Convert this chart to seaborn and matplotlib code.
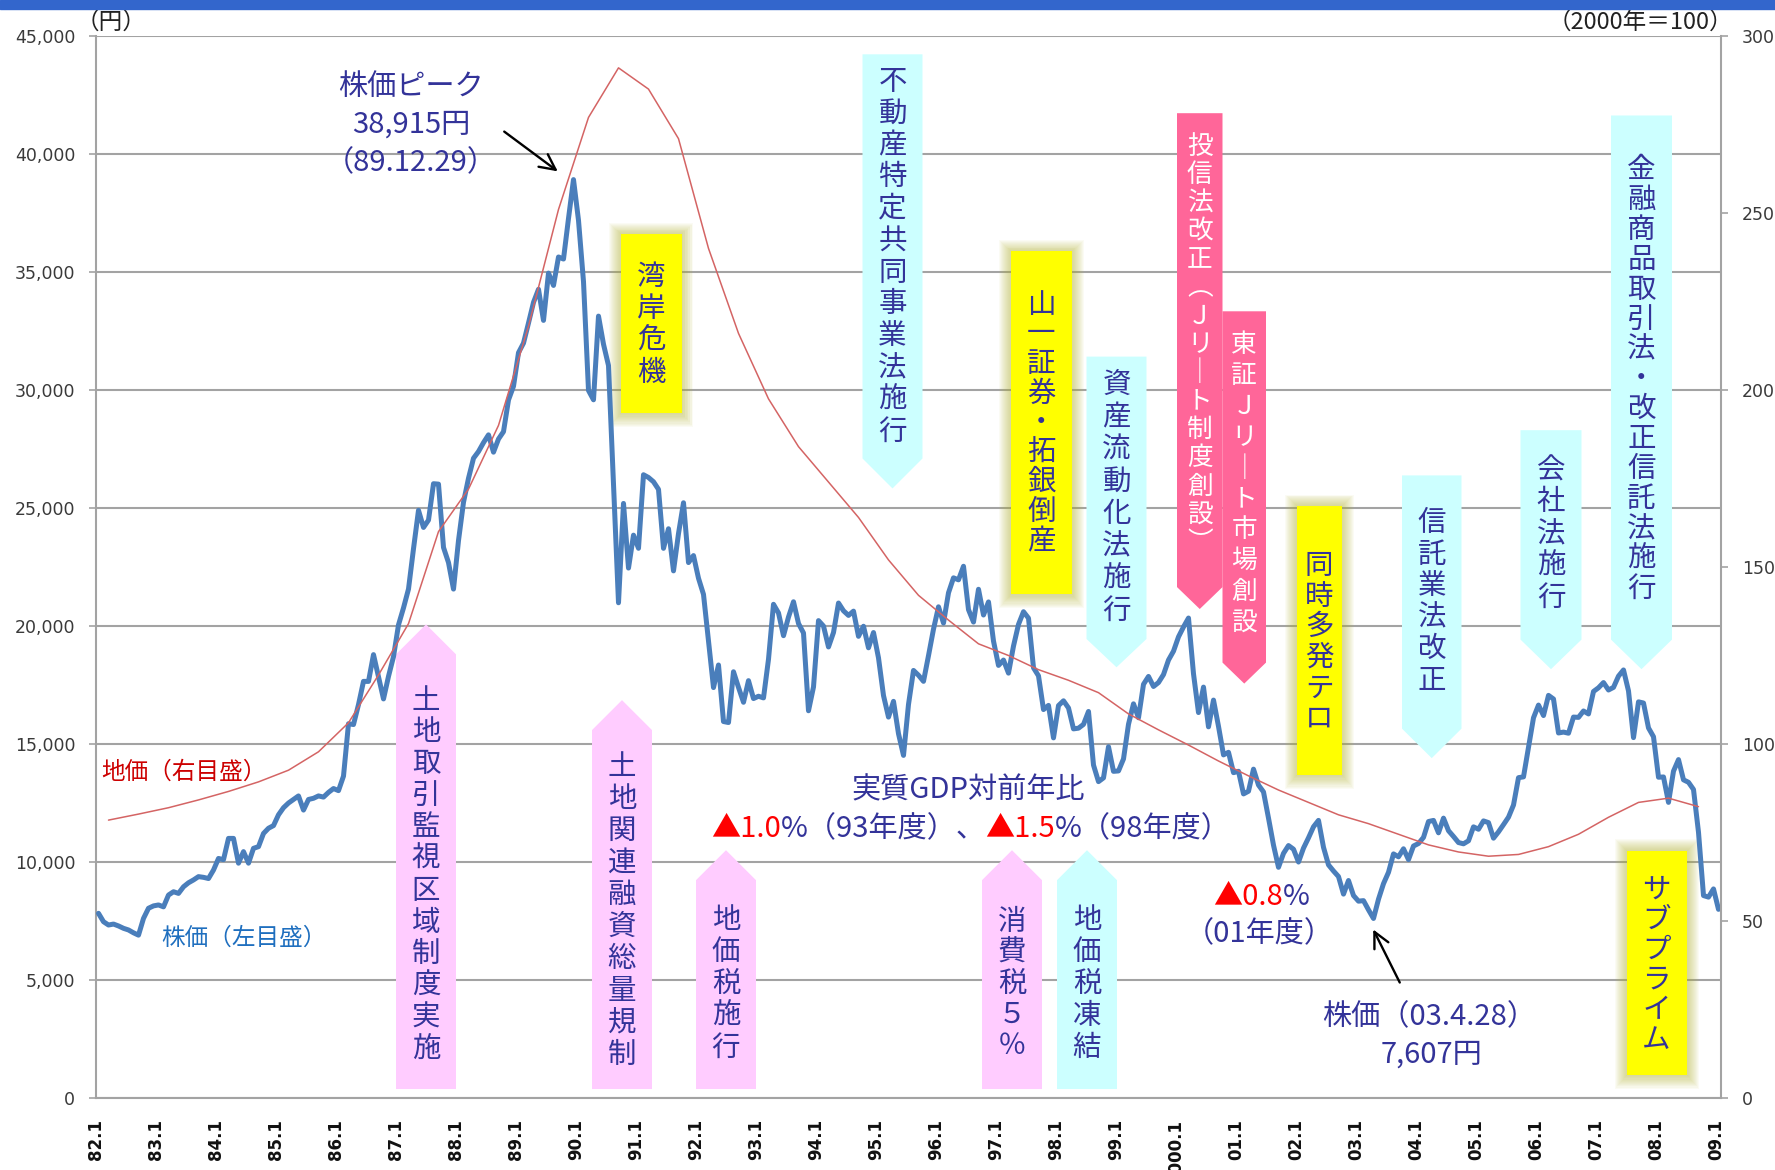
import numpy as np
import pandas as pd
import matplotlib
matplotlib.use("Agg")
import matplotlib.pyplot as plt
import seaborn as sns
from matplotlib.patches import Polygon, Rectangle
from matplotlib.offsetbox import TextArea, HPacker, AnnotationBbox

sns.set_style("white")
JP = "Noto Sans CJK JP"
plt.rcParams["font.family"] = [JP, "DejaVu Sans"]

# ---------------------------------------------------------------
# Data
# ---------------------------------------------------------------
# Nikkei 225, month-end (yen), Jan 1982 - Jan 2009
stock_82_86 = [
    7825, 7470, 7330, 7370, 7290, 7190, 7120, 7000, 6900, 7610, 8040, 8140,
    8180, 8100, 8600, 8740, 8670, 8950, 9120, 9240, 9380, 9350, 9300, 9660,
    10150, 10100, 11000, 11000, 9950, 10440, 9950, 10580, 10650, 11210, 11430, 11543,
    12000, 12300, 12500, 12650, 12800, 12200, 12650, 12700, 12800, 12750, 12950, 13113,
    13024, 13640, 15859, 15825, 16670, 17654, 17652, 18787, 17854, 16910, 17866, 18701,
]
stock_87_91 = [
    20048, 20767, 21567, 23274, 24902, 24176, 24488, 26029, 26011, 23329, 22687, 21564,
    23622, 25243, 26260, 27108, 27393, 27769, 28100, 27366, 27924, 28235, 29579, 30159,
    31581, 31986, 32839, 33713, 34267, 32949, 34954, 34431, 35637, 35549, 37269, 38915,
    37189, 34592, 29980, 29585, 33131, 31940, 31036, 25978, 20984, 25194, 22455, 23849,
    23293, 26409, 26292, 26111, 25790, 23291, 24121, 22336, 23916, 25222, 22687, 22984,
]
stock_92_96 = [
    22023, 21339, 19346, 17391, 18348, 15952, 15910, 18061, 17399, 16768, 17684, 16925,
    17024, 16953, 18591, 20919, 20552, 19590, 20380, 21027, 20106, 19703, 16408, 17417,
    20229, 19997, 19112, 19725, 20974, 20644, 20449, 20629, 19563, 19990, 19076, 19723,
    18650, 17053, 16140, 16807, 15437, 14517, 16678, 18117, 17913, 17655, 18744, 19868,
    20813, 20125, 21407, 22041, 21956, 22531, 20693, 20167, 21556, 20466, 21020, 19361,
]
stock_97_01 = [
    18330, 18557, 18003, 19151, 20068, 20605, 20331, 18229, 17888, 16459, 16636, 15259,
    16628, 16831, 16527, 15641, 15671, 15831, 16379, 14108, 13406, 13565, 14884, 13842,
    13859, 14368, 15837, 16702, 16112, 17530, 17862, 17437, 17605, 17942, 18558, 18934,
    19540, 19960, 20337, 17974, 16332, 17411, 15727, 16861, 15747, 14539, 14649, 13786,
    13844, 12884, 12999, 13934, 13262, 12969, 11861, 10714, 9775, 10366, 10697, 10543,
]
stock_02_09 = [
    9998, 10588, 11025, 11493, 11764, 10622, 9878, 9619, 9383, 8640, 9216, 8579,
    8340, 8363, 7973, 7607, 8425, 9083, 9563, 10344, 10219, 10560, 10101, 10677,
    10784, 11042, 11715, 11762, 11236, 11859, 11326, 11082, 10824, 10771, 10899, 11489,
    11388, 11741, 11669, 11009, 11277, 11584, 11900, 12414, 13574, 13607, 14872, 16111,
    16650, 16205, 17060, 16907, 15467, 15505, 15457, 16141, 16128, 16399, 16274, 17226,
    17383, 17604, 17288, 17400, 17876, 18138, 17249, 15270, 16786, 16737, 15681, 15308,
    13592, 13603, 12526, 13850, 14339, 13482, 13377, 13073, 11260, 8577, 8512, 8860,
    7994,
]

# Urban land price index (2000 = 100), March / September, 1982 - 2008
land_82_95 = [
    78.5, 80.2, 82.0, 84.2, 86.6, 89.3, 92.6, 97.8, 106.0, 119.5, 134.0, 160.0,
    172.0, 190.0, 218.0, 251.0, 277.0, 291.0, 285.0, 271.0, 240.0, 216.0, 197.5, 184.0,
    174.0, 164.0, 152.0, 142.0,
]
land_96_08 = [
    135.0, 128.3, 125.0, 121.0, 118.0, 114.5, 108.5, 104.0, 99.7, 95.2, 91.0, 87.0,
    83.5, 80.0, 77.5, 74.5, 71.5, 69.5, 68.3, 68.8, 71.0, 74.5, 79.3, 83.5, 84.7, 82.3,
]

year_ticks = ["82.1", "83.1", "84.1", "85.1", "86.1", "87.1", "88.1", "89.1", "90.1",
              "91.1", "92.1", "93.1", "94.1", "95.1", "96.1", "97.1", "98.1", "99.1",
              "2000.1", "01.1", "02.1", "03.1", "04.1", "05.1", "06.1", "07.1", "08.1",
              "09.1"]
left_ticks = [0, 5000, 10000, 15000, 20000, 25000, 30000, 35000, 40000, 45000]
right_ticks = [0, 50, 100, 150, 200, 250, 300]

stock = stock_82_86 + stock_87_91 + stock_92_96 + stock_97_01 + stock_02_09
land = land_82_95 + land_96_08

# months counted from Jan 1982; each value sits in the middle of its month
df_stock = pd.DataFrame({"month": np.arange(len(stock)) + 0.5, "price": stock})
df_land = pd.DataFrame({"month": np.arange(2, 2 + 6 * len(land), 6) + 0.5, "index": land})

# ---------------------------------------------------------------
# Figure
# ---------------------------------------------------------------
W, H = 1775, 1170
fig = plt.figure(figsize=(W / 100, H / 100), dpi=100)
fig.patch.set_facecolor("white")
fig.patches.append(Rectangle((0, 1 - 9 / H), 1, 9 / H, transform=fig.transFigure,
                             color="#3366CC", zorder=10))

ax = fig.add_axes([96 / W, 1 - 1098 / H, (1721 - 96) / W, (1098 - 36) / H])
ax.set_xlim(0, 325)
ax.set_ylim(0, 45000)

PX_X = 0.2          # months per pixel
PX_Y = 45000 / 1062  # yen per pixel

GRID = "#A3A3A3"
NAVY = "#333399"
LPINK = "#FFCCFF"
CYAN = "#CCFFFF"
HPINK = "#FF6699"
YEL = "#FFFF00"

ax.set_yticks(left_ticks)
ax.set_yticklabels([f"{v:,}" for v in left_ticks], fontfamily="DejaVu Sans",
                   fontsize=12.5, color="#3A3A3A")
ax.set_xticks(np.arange(0, 325, 12))
ax.set_xticklabels(year_ticks, rotation=90, fontfamily="DejaVu Sans",
                   fontsize=12, fontweight="bold", color="#111111", va="top")
ax.tick_params(axis="y", direction="out", length=5, width=1.2, color=GRID, pad=10)
ax.tick_params(axis="x", direction="out", length=6, width=1.2, color=GRID, pad=9)
ax.yaxis.grid(True, color=GRID, lw=1.5)
ax.xaxis.grid(False)
ax.set_axisbelow(True)
for s in ["left", "bottom"]:
    ax.spines[s].set_color(GRID)
    ax.spines[s].set_linewidth(1.5)
ax.spines["top"].set_visible(False)
ax.spines["right"].set_visible(False)


# ---------------------------------------------------------------
# Event boxes
# ---------------------------------------------------------------
def vtext(xc, yc, chars, pitch, size, color):
    n = len(chars)
    for k, ch in enumerate(chars):
        off = ((n - 1) / 2 - k) * pitch * 0.72
        ax.annotate(ch, xy=(xc, yc), xytext=(0, off), textcoords="offset points",
                    ha="center", va="center", fontsize=size, color=color,
                    fontfamily=JP, zorder=4)


def arrow_box(x0, x1, y_base, y_shoulder, y_tip, fc):
    xc = (x0 + x1) / 2
    verts = [(x0, y_base), (x1, y_base), (x1, y_shoulder), (xc, y_tip), (x0, y_shoulder)]
    ax.add_patch(Polygon(verts, closed=True, fc=fc, ec="none", zorder=2))


def glow_box(x0, x1, y0, y1):
    for k in range(12, 0, -1):
        ax.add_patch(Rectangle((x0 - k * PX_X, y0 - k * PX_Y * 1.15),
                               (x1 - x0) + 2 * k * PX_X, (y1 - y0) + k * PX_Y * 2.1,
                               fc=(0.72, 0.72, 0.22), ec="none", alpha=0.05, zorder=1.8))
    ax.add_patch(Rectangle((x0, y0), x1 - x0, y1 - y0, fc=YEL, ec="none", zorder=2))


# boxes pointing up from the bottom
arrow_box(60.0, 72.0, 380, 18800, 20070, LPINK)
vtext(66.0, 9449, "土地取引監視区域制度実施", 31.7, 20.5, NAVY)

arrow_box(99.2, 111.2, 380, 15590, 16860, LPINK)
vtext(105.2, 7937, "土地関連融資総量規制", 32.0, 20.5, NAVY)

arrow_box(120.0, 132.0, 380, 9230, 10500, LPINK)
vtext(126.0, 4830, "地価税施行", 32.0, 20.5, NAVY)

arrow_box(177.2, 189.2, 380, 9230, 10500, LPINK)
vtext(183.2, 4830, "消費税５％", 31.0, 20.5, NAVY)

arrow_box(192.2, 204.2, 380, 9230, 10500, CYAN)
vtext(198.2, 4830, "地価税凍結", 32.0, 20.5, NAVY)

# boxes pointing down from above
arrow_box(153.3, 165.3, 44224, 27098, 25828, CYAN)
vtext(159.3, 35651, "不動産特定共同事業法施行", 31.8, 20.5, NAVY)

arrow_box(198.1, 210.1, 31415, 19450, 18250, CYAN)
vtext(204.1, 25424, "資産流動化法施行", 32.3, 20.5, NAVY)

arrow_box(216.2, 225.3, 41729, 21650, 20720, HPINK)
vtext(220.75, 31907, "投信法改正︵Ｊリ｜ト制度創設︶", 28.3, 18.5, "white")

arrow_box(225.3, 234.0, 33335, 18450, 17560, HPINK)
vtext(229.65, 26017, "東証Ｊリ｜ト市場創設", 30.9, 18.5, "white")

arrow_box(261.2, 273.1, 26381, 15650, 14400, CYAN)
vtext(267.15, 21017, "信託業法改正", 31.6, 20.5, NAVY)

arrow_box(284.9, 297.1, 28297, 19424, 18170, CYAN)
vtext(291.0, 23898, "会社法施行", 32.0, 20.5, NAVY)

arrow_box(303.0, 315.2, 41632, 19424, 18170, CYAN)
vtext(309.1, 30445, "金融商品取引法・改正信託法施行", 29.9, 20.5, NAVY)

# highlighted shocks
glow_box(104.9, 117.1, 29017, 36598)
vtext(111.0, 32754, "湾岸危機", 32.2, 20.5, NAVY)

glow_box(183.0, 195.2, 21343, 35877)
vtext(189.1, 28602, "山一証券・拓銀倒産", 29.5, 20.5, NAVY)

glow_box(240.1, 249.1, 13686, 25085)
vtext(244.6, 19301, "同時多発テロ", 30.6, 20.5, NAVY)

glow_box(306.1, 318.1, 975, 10480)
vtext(312.1, 5636, "サブプライム", 30.0, 20.5, NAVY)

# ---------------------------------------------------------------
# Series
# ---------------------------------------------------------------
sns.lineplot(data=df_stock, x="month", y="price", ax=ax, color="#4A7EBB",
             lw=3.6, estimator=None, zorder=3)
ax.set_xlabel("")
ax.set_ylabel("")

ax2 = ax.twinx()
sns.lineplot(data=df_land, x="month", y="index", ax=ax2, color="#D46464",
             lw=1.1, estimator=None)
ax2.set_xlim(0, 325)
ax2.set_ylim(0, 300)
ax2.set_yticks(right_ticks)
ax2.set_yticklabels([str(v) for v in right_ticks], fontfamily="DejaVu Sans",
                    fontsize=12.5, color="#3A3A3A")
ax2.tick_params(axis="y", direction="out", length=5, width=1.2, color=GRID, pad=10)
ax2.set_ylabel("")
ax2.set_xlabel("")
for s in ["top", "left", "bottom"]:
    ax2.spines[s].set_visible(False)
ax2.spines["right"].set_color(GRID)
ax2.spines["right"].set_linewidth(1.5)
ax2.grid(False)

# ---------------------------------------------------------------
# Labels and notes
# ---------------------------------------------------------------
fig.text(76 / W, 1 - 22 / H, "（円）", fontsize=17, color="#222222", fontfamily=JP,
         ha="left", va="center")
fig.text(1733 / W, 1 - 22 / H, "（2000年＝100）", fontsize=17, color="#222222",
         fontfamily=JP, ha="right", va="center")

ax.text(63.0, 42839, "株価ピーク", fontsize=21, color=NAVY, ha="center", va="center", zorder=5)
ax.text(63.0, 41229, "38,915円", fontsize=21, color=NAVY, ha="center", va="center", zorder=5)
ax.text(63.0, 39619, "（89.12.29）", fontsize=21, color=NAVY, ha="center", va="center", zorder=5)
ax.annotate("", xy=(92.8, 39195), xytext=(81.2, 41020),
            arrowprops=dict(arrowstyle="->", lw=1.7, color="black", mutation_scale=28),
            zorder=5)

ax.text(1.0, 13814, "地価（右目盛）", fontsize=17, color="#CC0000", ha="left",
        va="center", zorder=5)
ax.text(13.0, 6780, "株価（左目盛）", fontsize=17, color="#1F6FBF", ha="left",
        va="center", zorder=5)


def colored_line(x, y, parts, size):
    areas = [TextArea(t, textprops=dict(color=c, fontsize=size, fontfamily=JP))
             for t, c in parts]
    pack = HPacker(children=areas, align="baseline", pad=0, sep=0)
    ab = AnnotationBbox(pack, (x, y), xycoords="data", frameon=False,
                        box_alignment=(0.5, 0.5), zorder=5)
    ax.add_artist(ab)


ax.text(174.4, 13051, "実質GDP対前年比", fontsize=21, color=NAVY, ha="center",
        va="center", zorder=5)
colored_line(175.0, 11400, [("▲1.0", "#FF0000"), ("%（93年度）、", NAVY),
                            ("▲1.5", "#FF0000"), ("%（98年度）", NAVY)], 21)

colored_line(233.0, 8517, [("▲0.8", "#FF0000"), ("%", NAVY)], 21)
ax.text(232.6, 6949, "（01年度）", fontsize=21, color=NAVY, ha="center", va="center", zorder=5)

ax.text(266.6, 3432, "株価（03.4.28）", fontsize=21, color=NAVY, ha="center", va="center", zorder=5)
ax.text(267.0, 1822, "7,607円", fontsize=21, color=NAVY, ha="center", va="center", zorder=5)
ax.annotate("", xy=(255.2, 7246), xytext=(261.0, 4788),
            arrowprops=dict(arrowstyle="->", lw=1.7, color="black", mutation_scale=28),
            zorder=5)

fig.savefig("out.png", dpi=100)
